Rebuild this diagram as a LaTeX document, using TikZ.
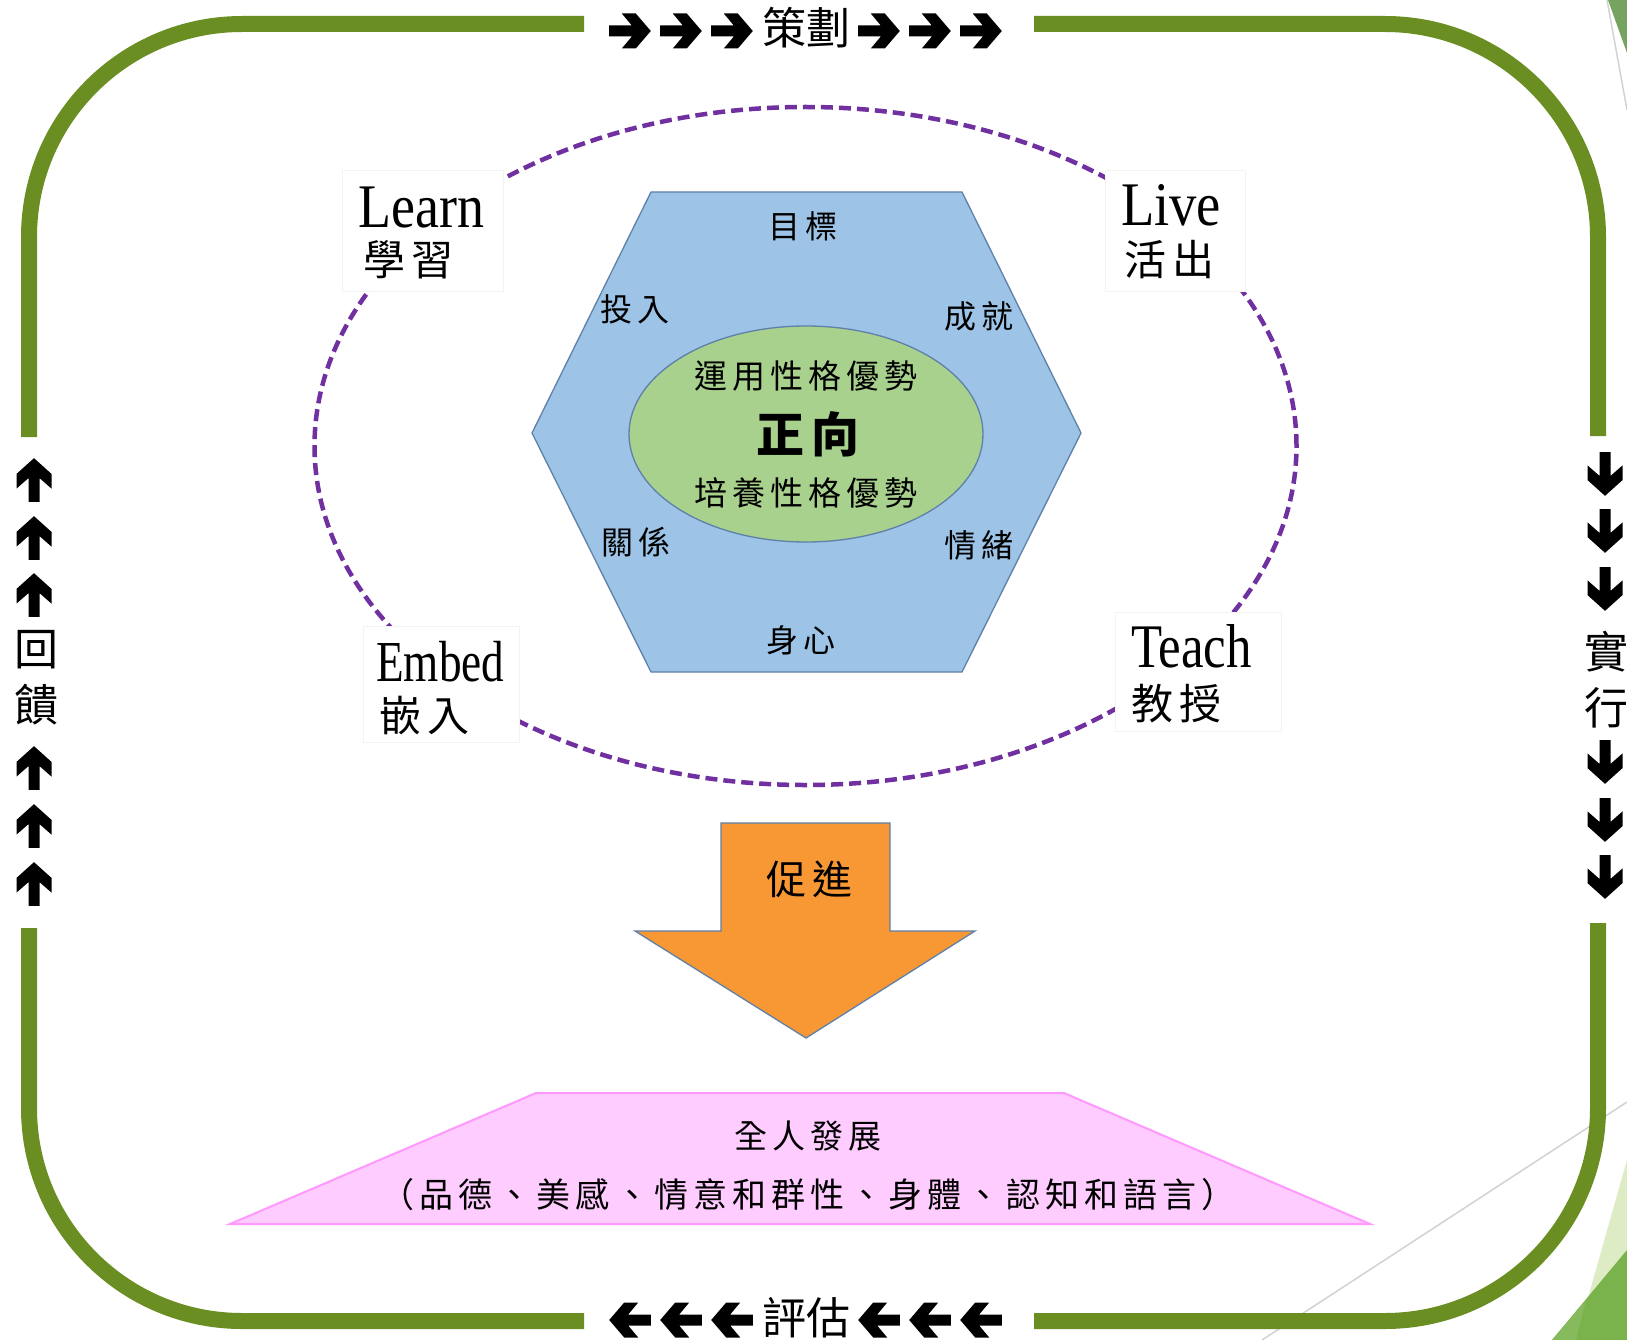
\documentclass[tikz,border=0pt]{standalone}
\usepackage{fontspec}
\setmainfont{Liberation Serif}
\newfontfamily\cjk{Noto Sans CJK TC}
\newfontfamily\cjksp[LetterSpace=15]{Noto Sans CJK TC}
\usetikzlibrary{shapes.geometric}
\definecolor{framegreen}{RGB}{107,142,35}
\definecolor{hexfill}{RGB}{157,195,230}
\definecolor{hexline}{RGB}{95,128,168}
\definecolor{corefill}{RGB}{169,209,142}
\definecolor{orangefill}{RGB}{247,152,52}
\definecolor{pinkfill}{RGB}{255,204,255}
\definecolor{pinkline}{RGB}{255,153,255}
\definecolor{dashpurple}{RGB}{112,48,160}
\definecolor{boxline}{RGB}{243,243,243}
\definecolor{decogray}{RGB}{210,210,210}
\definecolor{decolight}{RGB}{221,236,196}
\definecolor{decodark}{RGB}{122,178,75}
\definecolor{decotint}{RGB}{134,186,92}
\definecolor{decomid}{RGB}{118,163,95}
\begin{document}
\begin{tikzpicture}[x=1pt,y=-1pt,
  frameline/.style={draw=framegreen,line width=16pt,rounded corners=213pt},
  bigarrow/.pic={\fill[black] (-20.8,-5.5) -- (1.8,-5.5) -- (-8.2,-17.5) -- (5.8,-17.5) -- (20.8,0) -- (5.8,17.5) -- (-8.2,17.5) -- (1.8,5.5) -- (-20.8,5.5) -- cycle;},
  sidelbl/.style={font=\cjk\fontsize{44}{56}\selectfont,inner sep=0pt,align=center},
  lblbox/.style={fill=white,draw=boxline,line width=1pt},
  latinlbl/.style={font=\fontsize{62}{62}\selectfont,inner sep=0pt,anchor=base west},
  cjklbl/.style={font=\cjksp\fontsize{42}{42}\selectfont,inner sep=0pt,anchor=west},
  hexlbl/.style={font=\cjksp\fontsize{32}{32}\selectfont,inner sep=0pt},
  corelbl/.style={font=\cjksp\fontsize{33}{33}\selectfont,inner sep=0pt},
  baselbl/.style={font=\cjksp\fontsize{33}{33}\selectfont,inner sep=0pt}
]
\useasboundingbox (0,0) rectangle (1627,1340);
\fill[white] (0,0) rectangle (1627,1340);

% background decorations of the slide
\draw[decogray,line width=1.5pt] (1607,0) -- (1627,110);
\fill[decomid] (1608,0) -- (1627,0) -- (1627,53) -- cycle;
\draw[decogray,line width=1.5pt] (1627,1102) -- (1262,1340);
\fill[decolight] (1627,1160) -- (1627,1340) -- (1576,1340) -- cycle;
\fill[decodark] (1627,1250) -- (1627,1340) -- (1552,1340) -- cycle;
\fill[decotint] (1586,1300) -- (1576,1340) -- (1552,1340) -- cycle;

% green frame
\draw[frameline] (1034,24) -- (1598,24) -- (1598,436);
\draw[frameline] (1598,923) -- (1598,1321) -- (1034,1321);
\draw[frameline] (584,1321) -- (29,1321) -- (29,928);
\draw[frameline] (29,437) -- (29,24) -- (584,24);

% frame labels
\node[sidelbl] (plan) at (806,28) {策劃};
\node[sidelbl] (evaluate) at (806,1318) {評估};
\node[sidelbl] (feedback) at (36,678) {回\\饋};
\node[sidelbl] (implement) at (1606,680) {實\\行};

\foreach \x in {630,681,732,879,930,981} {
  \pic at (\x,31) {bigarrow};
  \pic[rotate=180] at (\x,1320) {bigarrow};
}
\foreach \y in {480,538,595,768,826,884} {
  \pic[rotate=90,xscale=1.05] at (34,\y) {bigarrow};
}
\foreach \y in {474,531,589,762,820,877} {
  \pic[rotate=-90,xscale=1.05] at (1605,\y) {bigarrow};
}

% dashed cycle
\draw[dashpurple,line width=4.5pt,dash pattern=on 12pt off 6pt] (805.5,446) ellipse [x radius=491pt, y radius=339pt];

% label boxes
\draw[lblbox] (342,171) rectangle (503,291);
\draw[lblbox] (1105,171) rectangle (1245,291);
\draw[lblbox] (363,626) rectangle (519,742);
\draw[lblbox] (1115,612) rectangle (1281,731);
\node[latinlbl] (learn) at (358,228) {\scalebox{0.87}[1]{Learn}};
\node[cjklbl] (learnzh) at (363,260) {學習};
\node[latinlbl] (live) at (1121,226) {\scalebox{0.88}[1]{Live}};
\node[cjklbl] (livezh) at (1124,260) {活出};
\node[latinlbl,font=\fontsize{58}{58}\selectfont] (embed) at (376,681) {\scalebox{0.78}[1]{Embed}};
\node[cjklbl] (embedzh) at (379,716) {嵌入};
\node[latinlbl] (teach) at (1131,667) {\scalebox{0.82}[1]{Teach}};
\node[cjklbl] (teachzh) at (1131,704) {教授};

% hexagon
\filldraw[fill=hexfill,draw=hexline,line width=1.3pt] (651,192) -- (962,192) -- (1081,433) -- (962,672) -- (651,672) -- (532,433) -- cycle;
\node[hexlbl] (goal) at (803,226) {目標};
\node[hexlbl] (engage) at (635,309) {投入};
\node[hexlbl] (achieve) at (979,316) {成就};
\node[hexlbl] (relation) at (636,542) {關係};
\node[hexlbl] (emotion) at (979,545) {情緒};
\node[hexlbl] (body) at (801,640) {身心};

% core ellipse
\node[ellipse,draw=hexline,fill=corefill,line width=1.3pt,minimum width=354pt,minimum height=216pt,inner sep=0pt] (core) at (806,434) {};
\node[corelbl] (use) at (806,376) {運用性格優勢};
\node[font=\cjksp\bfseries\fontsize{48}{48}\selectfont,inner sep=0pt] (positive) at (808,434) {正向};
\node[corelbl] (cultivate) at (806,493) {培養性格優勢};

% orange arrow
\filldraw[fill=orangefill,draw=hexline,line width=1.3pt] (721,823) -- (890,823) -- (890,931) -- (975,931) -- (806,1038) -- (635,931) -- (721,931) -- cycle;
\node[font=\cjksp\fontsize{40}{40}\selectfont,inner sep=0pt] (promote) at (809,879) {促進};

% pink trapezoid
\filldraw[fill=pinkfill,draw=pinkline,line width=2pt] (536,1093) -- (1064,1093) -- (1370,1224) -- (230,1224) -- cycle;
\node[baselbl] (whole) at (808,1136) {全人發展};
\node[baselbl,font=\cjksp\fontsize{34}{34}\selectfont] (domains) at (808,1195) {（品德、美感、情意和群性、身體、認知和語言）};
\end{tikzpicture}
\end{document}
